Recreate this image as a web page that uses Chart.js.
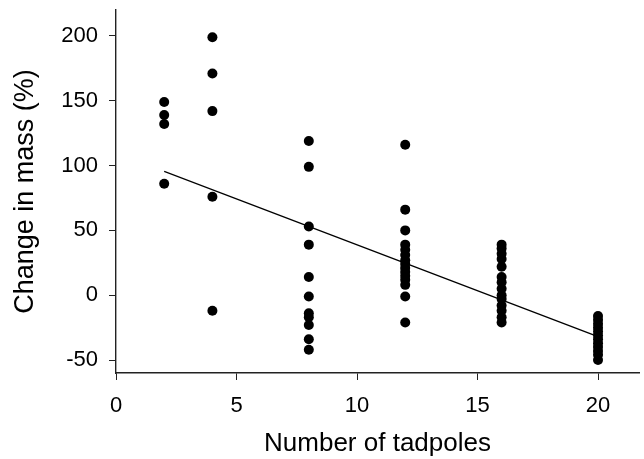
<!DOCTYPE html>
<html>
<head>
<meta charset="utf-8">
<script src="https://cdn.jsdelivr.net/npm/chart.js@4.4.1/dist/chart.umd.min.js"></script>
<style>
html,body{margin:0;padding:0;background:#fff;}
#wrap{width:644px;height:459px;}
</style>
</head>
<body>
<div id="wrap"><canvas id="c" width="644" height="459"></canvas></div>
<script>
// Data
const tadpoles = [
  2, 2, 2, 2,
  4, 4, 4, 4, 4,
  8, 8, 8, 8, 8, 8, 8, 8, 8, 8, 8,
  12, 12, 12, 12, 12, 12, 12, 12, 12, 12, 12, 12, 12, 12, 12,
  16, 16, 16, 16, 16, 16, 16, 16, 16, 16, 16, 16, 16, 16,
  20, 20, 20, 20, 20, 20, 20, 20, 20, 20, 20, 20
];
const massChange = [
  149, 139, 132, 86,
  199, 171, 142, 76, -12,
  119, 99, 53, 39, 14, -1, -14, -17, -23, -34, -42,
  116, 66, 50, 39, 35, 31, 27, 24, 21, 18, 15, 12, 8, -1, -21,
  39, 36, 32, 28, 22, 14, 10, 5, 0, -3, -8, -12, -17, -21,
  -16, -19, -22, -25, -28, -31, -34, -37, -40, -43, -46, -50
];
const fitX = [2, 20];
const fitY = [95.5, -32];
const xTicks = [0, 5, 10, 15, 20];
const yTicks = [-50, 0, 50, 100, 150, 200];
const xTitle = 'Number of tadpoles';
const yTitle = 'Change in mass (%)';

const points = tadpoles.map((x, i) => ({x: x, y: massChange[i]}));
const fitLine = fitX.map((x, i) => ({x: x, y: fitY[i]}));

const FONT = '"Liberation Sans", Arial, sans-serif';

new Chart(document.getElementById('c'), {
  type: 'scatter',
  data: {
    datasets: [
      {
        label: 'observations',
        data: points,
        pointRadius: 5,
        pointHoverRadius: 5,
        backgroundColor: '#000',
        borderColor: '#000',
        borderWidth: 0
      },
      {
        label: 'fit',
        type: 'line',
        data: fitLine,
        borderColor: '#000',
        borderWidth: 1.3,
        pointRadius: 0,
        fill: false,
        tension: 0
      }
    ]
  },
  options: {
    responsive: false,
    animation: false,
    devicePixelRatio: 1,
    layout: {padding: {left: 0, right: 2, top: 10, bottom: 0}},
    plugins: {legend: {display: false}, tooltip: {enabled: false}},
    scales: {
      x: {
        type: 'linear',
        min: 0,
        max: 21.7,
        afterBuildTicks: s => { s.ticks = xTicks.map(v => ({value: v})); },
        afterFit: s => { s.height = 86; },
        grid: {drawOnChartArea: false, drawTicks: true, tickLength: 7, color: '#222', lineWidth: 1},
        border: {color: '#222', width: 1.4},
        ticks: {color: '#000', font: {family: FONT, size: 22}, padding: 13, maxRotation: 0},
        title: {display: true, text: xTitle, color: '#000', font: {family: FONT, size: 26}, padding: {top: 0, bottom: 0}}
      },
      y: {
        type: 'linear',
        min: -60,
        max: 220,
        afterBuildTicks: s => { s.ticks = yTicks.map(v => ({value: v})); },
        afterFit: s => { s.width = 116; s.paddingTop = 0; s.paddingBottom = 0; },
        grid: {drawOnChartArea: false, drawTicks: true, tickLength: 7, color: '#222', lineWidth: 1},
        border: {color: '#222', width: 1.4},
        ticks: {color: '#000', font: {family: FONT, size: 22}, padding: 11},
        title: {display: true, text: yTitle, color: '#000', font: {family: FONT, size: 27}, padding: {top: 9, bottom: 0}}
      }
    }
  }
});
</script>
</body>
</html>
